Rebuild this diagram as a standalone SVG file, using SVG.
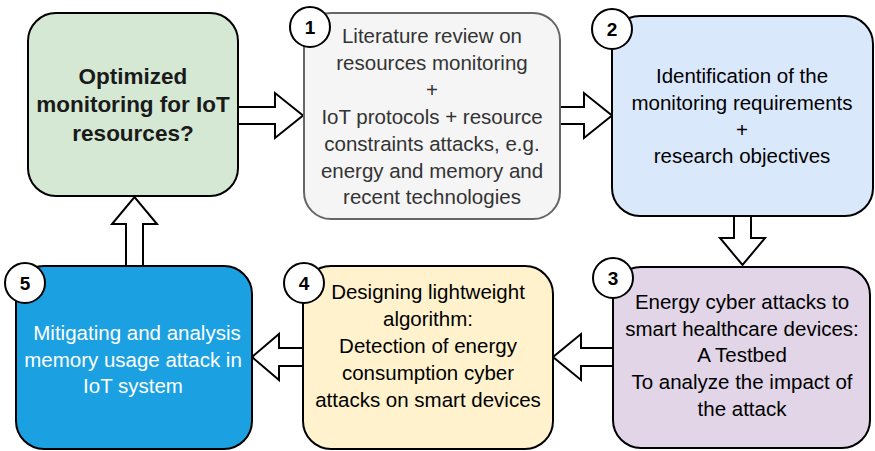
<svg xmlns="http://www.w3.org/2000/svg" width="875" height="451" viewBox="0 0 875 451">
  <style>
    .box { stroke: #000; stroke-width: 2; }
    .txt { font-family: "Liberation Sans", Arial, sans-serif; font-size: 20.5px; text-anchor: middle; fill: #000; }
    .title { font-family: "Liberation Sans", Arial, sans-serif; font-size: 22.5px; font-weight: bold; text-anchor: middle; fill: #1a1a1a; }
    .badge circle { fill: #fff; stroke: #000; stroke-width: 2; }
    .badge text { font-family: "Liberation Sans", Arial, sans-serif; font-size: 19px; font-weight: bold; text-anchor: middle; fill: #000; }
    .arrow { fill: #fff; stroke: #000; stroke-width: 2; stroke-linejoin: miter; }
  </style>

  <!-- connectors: hollow block arrows -->
  <g id="connectors">
    <polygon class="arrow" points="238,107 275,107 275,93 303,115.5 275,138 275,124 238,124"/>
    <polygon class="arrow" points="560,107 584,107 584,93 612,115.5 584,138 584,124 560,124"/>
    <polygon class="arrow" points="734,216 751,216 751,238 765,238 742.5,265 720,238 734,238"/>
    <polygon class="arrow" points="613,348 581,348 581,334 553,357 581,380 581,366 613,366"/>
    <polygon class="arrow" points="303,348 279,348 279,334 252,357 279,380 279,366 303,366"/>
    <polygon class="arrow" points="126,266 126,224 112,224 134.5,197 157,224 143,224 143,266"/>
  </g>

  <!-- research question -->
  <g id="question">
    <rect class="box" x="28" y="13" width="210" height="183" rx="28" fill="#d5e8d4"/>
    <text class="title" x="133" y="84">Optimized</text>
    <text class="title" x="133" y="112">monitoring for IoT</text>
    <text class="title" x="133" y="141">resources?</text>
  </g>

  <!-- step 1 -->
  <g id="step1">
    <rect x="304" y="13" width="256" height="206" rx="27" fill="#f5f5f5" stroke="#666" stroke-width="2"/>
    <g class="txt" style="fill:#333">
      <text x="432" y="43">Literature review on</text>
      <text x="432" y="70">resources monitoring</text>
      <text x="432" y="97">+</text>
      <text x="432" y="124">IoT protocols + resource</text>
      <text x="432" y="151">constraints attacks, e.g.</text>
      <text x="432" y="178">energy and memory and</text>
      <text x="432" y="204">recent technologies</text>
    </g>
    <g class="badge">
      <circle cx="310" cy="27" r="20"/>
      <text x="310" y="34">1</text>
    </g>
  </g>

  <!-- step 2 -->
  <g id="step2">
    <rect class="box" x="612" y="16" width="261" height="200" rx="28" fill="#dae8fc"/>
    <g class="txt">
      <text x="742" y="83">Identification of the</text>
      <text x="742" y="110">monitoring requirements</text>
      <text x="742" y="137">+</text>
      <text x="742" y="163">research objectives</text>
    </g>
    <g class="badge">
      <circle cx="612" cy="29" r="20"/>
      <text x="612" y="36">2</text>
    </g>
  </g>

  <!-- step 3 -->
  <g id="step3">
    <rect class="box" x="613" y="267" width="257" height="181" rx="28" fill="#e1d5e7"/>
    <g class="txt">
      <text x="742" y="309">Energy cyber attacks to</text>
      <text x="742" y="336">smart healthcare devices:</text>
      <text x="742" y="362">A Testbed</text>
      <text x="742" y="389">To analyze the impact of</text>
      <text x="742" y="416">the attack</text>
    </g>
    <g class="badge">
      <circle cx="613" cy="278" r="20"/>
      <text x="613" y="285">3</text>
    </g>
  </g>

  <!-- step 4 -->
  <g id="step4">
    <rect class="box" x="303" y="266" width="250" height="183" rx="28" fill="#fff2cc"/>
    <g class="txt">
      <text x="428" y="299">Designing lightweight</text>
      <text x="428" y="326">algorithm:</text>
      <text x="428" y="353">Detection of energy</text>
      <text x="428" y="380">consumption cyber</text>
      <text x="428" y="407">attacks on smart devices</text>
    </g>
    <g class="badge">
      <circle cx="304" cy="283" r="20"/>
      <text x="304" y="290">4</text>
    </g>
  </g>

  <!-- step 5 -->
  <g id="step5">
    <rect class="box" x="16" y="266" width="236" height="183" rx="28" fill="#1ba1e2"/>
    <g class="txt" style="fill:#fff">
      <text x="137" y="340">Mitigating and analysis</text>
      <text x="133" y="367">memory usage attack in</text>
      <text x="133" y="393">IoT system</text>
    </g>
    <g class="badge">
      <circle cx="25" cy="283" r="20"/>
      <text x="25" y="290">5</text>
    </g>
  </g>
</svg>
